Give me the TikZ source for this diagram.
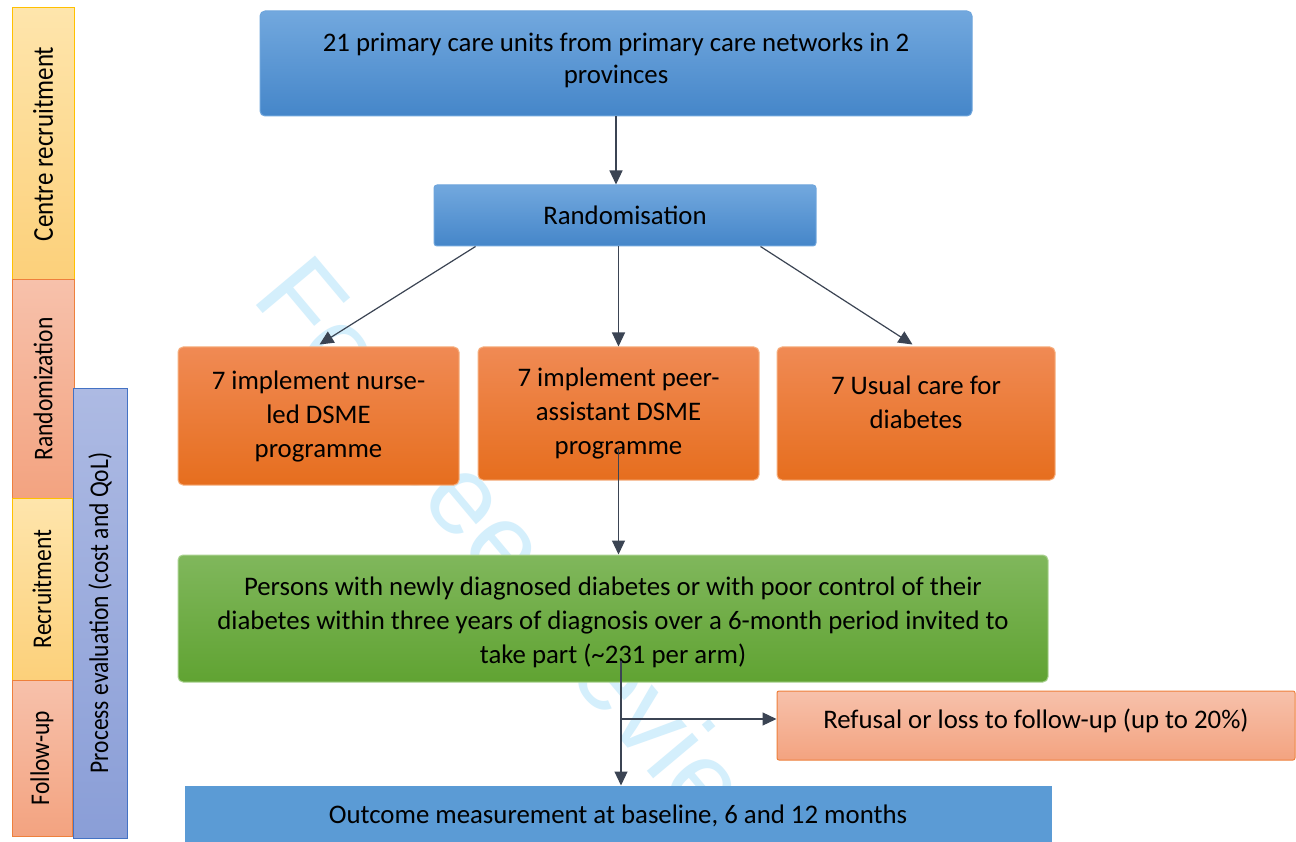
\documentclass[tikz,border=0pt]{standalone}
\usepackage{fontspec}
\setmainfont{Carlito}
\newfontfamily\wmfont{Liberation Sans}
\usetikzlibrary{arrows.meta,calc}
\definecolor{blueTop}{RGB}{114,168,222}
\definecolor{blueBot}{RGB}{69,134,201}
\definecolor{blueBorder}{RGB}{110,165,220}
\definecolor{orangeTop}{RGB}{240,138,84}
\definecolor{orangeBot}{RGB}{230,110,30}
\definecolor{orangeBorder}{RGB}{246,176,128}
\definecolor{greenTop}{RGB}{128,183,92}
\definecolor{greenBot}{RGB}{96,163,50}
\definecolor{greenBorder}{RGB}{170,210,145}
\definecolor{salmonL}{RGB}{247,193,171}
\definecolor{salmonD}{RGB}{243,163,128}
\definecolor{salmonBorder}{RGB}{238,128,60}
\definecolor{goldL}{RGB}{254,229,172}
\definecolor{goldD}{RGB}{252,208,122}
\definecolor{goldBorder}{RGB}{255,192,0}
\definecolor{purpL}{RGB}{173,186,227}
\definecolor{purpD}{RGB}{138,158,215}
\definecolor{purpBorder}{RGB}{68,114,196}
\definecolor{outFill}{RGB}{91,155,213}
\definecolor{arrCol}{RGB}{59,68,83}
\definecolor{wmCol}{RGB}{212,239,252}
\newcommand{\upby}[1]{\rule[-#1]{0pt}{#1}}
\newcommand{\downby}[1]{\rule{0pt}{#1}}
\newcommand{\barlabel}[1]{\scalebox{1}[1.15]{#1}}
\tikzset{
  box/.style={draw, rounded corners=5pt, line width=1pt, align=center, inner sep=0pt,
    font=\fontsize{26.8}{34}\selectfont},
  bluebox/.style={box, draw=blueBorder, top color=blueTop, bottom color=blueBot},
  orangebox/.style={box, draw=orangeBorder, top color=orangeTop, bottom color=orangeBot},
  greenbox/.style={box, draw=greenBorder, top color=greenTop, bottom color=greenBot},
  salmonbox/.style={box, rounded corners=2pt, draw=salmonBorder, top color=salmonL, bottom color=salmonD},
  bar/.style={draw, line width=1pt, rotate=90, inner sep=0pt, font=\fontsize{23.5}{26}\selectfont},
  goldbar/.style={bar, draw=goldBorder, top color=goldL, bottom color=goldD},
  salmonbar/.style={bar, draw=salmonBorder, top color=salmonL, bottom color=salmonD},
  purpbar/.style={bar, draw=purpBorder, top color=purpL, bottom color=purpD},
  arr/.style={draw=arrCol, line width=1.2pt, -{Triangle[length=14pt,width=13pt]}, color=arrCol},
  wm/.style={text=wmCol, font=\wmfont\fontsize{112}{112}\selectfont, rotate=-50, anchor=base west, inner sep=0pt}
}
\begin{document}
\begin{tikzpicture}[x=1pt,y=-1pt]
\useasboundingbox (0,0) rectangle (1296,842);
\clip (0,0) rectangle (1296,842);
\fill[white] (0,0) rectangle (1296,842);
% watermark
\node[wm] (wmark) at (250,298) {For peer review only};
% left bars
\node[goldbar, minimum width=272pt, minimum height=62pt] (cr) at (43,144) {\barlabel{\fontsize{25}{28}\selectfont Centre recruitment}};
\node[salmonbar, minimum width=218pt, minimum height=62pt] (rz) at (43,389) {\barlabel{Randomization}};
\node[goldbar, minimum width=182pt, minimum height=60pt] (rc) at (42,589) {\barlabel{Recruitment}};
\node[salmonbar, minimum width=156pt, minimum height=60pt] (fu) at (42,758) {\barlabel{Follow-up}};
\node[purpbar, minimum width=450pt, minimum height=54pt] (pe) at (100,613) {\barlabel{Process evaluation (cost and QoL)}};
% main boxes
\node[bluebox, font=\fontsize{26.8}{32}\selectfont, minimum width=712pt, minimum height=105pt] (top) at (616,63.5)
  {21 primary care units from primary care networks in 2\\provinces\upby{10pt}};
\node[bluebox, rounded corners=3pt, minimum width=382pt, minimum height=61pt] (rand) at (625,215.5) {Randomisation};
\node[orangebox, minimum width=281pt, minimum height=138pt] (b1) at (318.5,416)
  {7 implement nurse-\\led DSME\\programme};
\node[orangebox, minimum width=281pt, minimum height=133pt] (b2) at (618.5,413.5)
  {7 implement peer-\\assistant DSME\\programme};
\node[orangebox, minimum width=278pt, minimum height=133pt] (b3) at (916,413.5)
  {7 Usual care for\\diabetes\upby{22pt}};
\node[greenbox, minimum width=870pt, minimum height=127pt] (green) at (613,618.5)
  {\downby{26pt}Persons with newly diagnosed diabetes or with poor control of their\\diabetes within three years of diagnosis over a 6-month period invited to\\take part (\textasciitilde 231 per arm)};
\node[salmonbox, minimum width=518pt, minimum height=69pt] (ref) at (1036,725.5)
  {Refusal or loss to follow-up (up to 20\%)\upby{14pt}};
\node[box, draw=outFill, fill=outFill, rounded corners=0pt, minimum width=866pt, minimum height=64pt] (out) at (618,818)
  {Outcome measurement at baseline, 6 and 12 months\upby{8pt}};
% connectors
\draw[arr] (top.south) -- (top.south |- rand.north);
\draw[arr] ([xshift=42pt]rand.south west) -- ([xshift=142pt,yshift=2pt]b1.north west);
\draw[arr] (rand.south -| b2.north) -- (b2.north);
\draw[arr] ([xshift=-56pt]rand.south east) -- ([xshift=-143pt,yshift=2pt]b3.north east);
\coordinate (s2) at ([yshift=33pt]b2.south);
\draw[arr] (s2) -- (s2 |- green.north);
\coordinate (sg) at ([xshift=8pt,yshift=22pt]green.south);
\draw[arr] (sg) -- (sg |- out.north);
\coordinate (br) at (621,719);
\draw[arr] (br) -- (br -| ref.west);
\end{tikzpicture}
\end{document}
